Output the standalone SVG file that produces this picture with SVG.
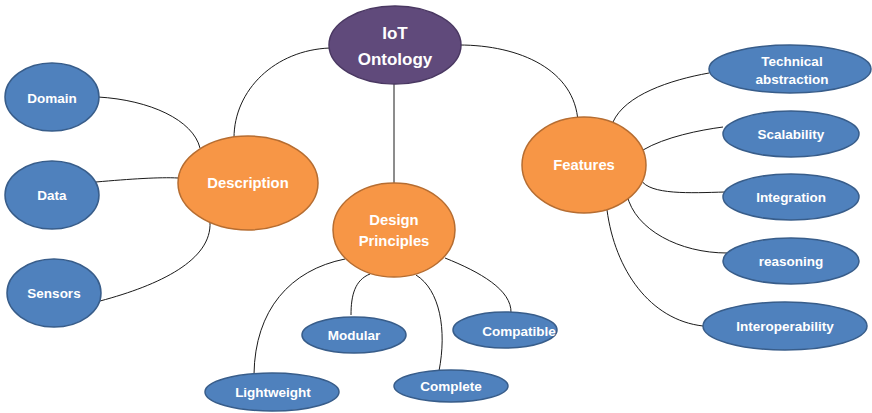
<svg xmlns="http://www.w3.org/2000/svg" width="872" height="413" viewBox="0 0 872 413">
<style>
.c{fill:none;stroke:#1a1a1a;stroke-width:1}
.b{fill:#4F81BD;stroke:#385D8A;stroke-width:1.5}
.o{fill:#F79646;stroke:#B66D31;stroke-width:1.5}
.p{fill:#604A7B;stroke:#4A3862;stroke-width:1.5}
text{font-family:"Liberation Sans",Arial,sans-serif;font-weight:bold;fill:#fff;text-anchor:middle;dominant-baseline:central}
.s{font-size:13.5px}
.m{font-size:14.8px}
.l{font-size:17px}
</style>
<rect width="872" height="413" fill="#fff"/>
<g id="connectors">
<path class="c" d="M330 48 C275 50 234 90 234 138"/>
<path class="c" d="M459 45 C520 45 575 70 578 122"/>
<path class="c" d="M394 84 L394 183"/>
<path class="c" d="M98 97 C150 100 193 120 200 148"/>
<path class="c" d="M96 182 C130 179 160 177 178 178"/>
<path class="c" d="M100 301 C160 285 212 260 210 222"/>
<path class="c" d="M345 259 C290 270 255 310 254 374"/>
<path class="c" d="M370 274 C355 280 351 295 351 315"/>
<path class="c" d="M416 275 C440 290 447 330 439 371"/>
<path class="c" d="M445 258 C480 272 512 290 511 313"/>
<path class="c" d="M613 122 C625 95 670 80 709 73"/>
<path class="c" d="M643 150 C665 137 700 130 723 127"/>
<path class="c" d="M641 180 C650 195 690 193 725 192"/>
<path class="c" d="M627 195 C635 230 680 253 727 253"/>
<path class="c" d="M607 210 C615 270 650 320 703 326"/>
</g>
<g id="iot"><ellipse class="p" cx="395" cy="45" rx="66" ry="39"/><text class="l" x="395" y="33">IoT</text><text class="l" x="395" y="59">Ontology</text></g>
<g id="description"><ellipse class="o" cx="248" cy="183" rx="70" ry="47"/><text class="m" x="248" y="183">Description</text></g>
<g id="design"><ellipse class="o" cx="394" cy="230" rx="61" ry="47"/><text class="m" x="394" y="220">Design</text><text class="m" x="394" y="241">Principles</text></g>
<g id="features"><ellipse class="o" cx="584" cy="165" rx="62" ry="48"/><text class="m" x="584" y="165">Features</text></g>
<g id="domain"><ellipse class="b" cx="52" cy="97" rx="47" ry="34"/><text class="s" x="52" y="98">Domain</text></g>
<g id="data"><ellipse class="b" cx="52" cy="195" rx="47" ry="34"/><text class="s" x="52" y="195">Data</text></g>
<g id="sensors"><ellipse class="b" cx="54" cy="293" rx="47" ry="34"/><text class="s" x="54" y="293">Sensors</text></g>
<g id="lightweight"><ellipse class="b" cx="272" cy="392" rx="67" ry="19"/><text class="s" x="273" y="392">Lightweight</text></g>
<g id="modular"><ellipse class="b" cx="354" cy="335" rx="52" ry="18"/><text class="s" x="354" y="335">Modular</text></g>
<g id="complete"><ellipse class="b" cx="451" cy="386" rx="57" ry="16"/><text class="s" x="451" y="386">Complete</text></g>
<g id="compatible"><ellipse class="b" cx="505" cy="330" rx="52" ry="18"/><text class="s" x="519" y="331">Compatible</text></g>
<g id="technical"><ellipse class="b" cx="790" cy="69" rx="81" ry="24"/><text class="s" x="792" y="61">Technical</text><text class="s" x="792" y="79">abstraction</text></g>
<g id="scalability"><ellipse class="b" cx="791" cy="134" rx="68" ry="23"/><text class="s" x="791" y="134">Scalability</text></g>
<g id="integration"><ellipse class="b" cx="791" cy="197" rx="68" ry="23"/><text class="s" x="791" y="197">Integration</text></g>
<g id="reasoning"><ellipse class="b" cx="791" cy="261" rx="68" ry="23"/><text class="s" x="791" y="261">reasoning</text></g>
<g id="interoperability"><ellipse class="b" cx="785" cy="326" rx="82" ry="24"/><text class="s" x="785" y="326">Interoperability</text></g>
</svg>
